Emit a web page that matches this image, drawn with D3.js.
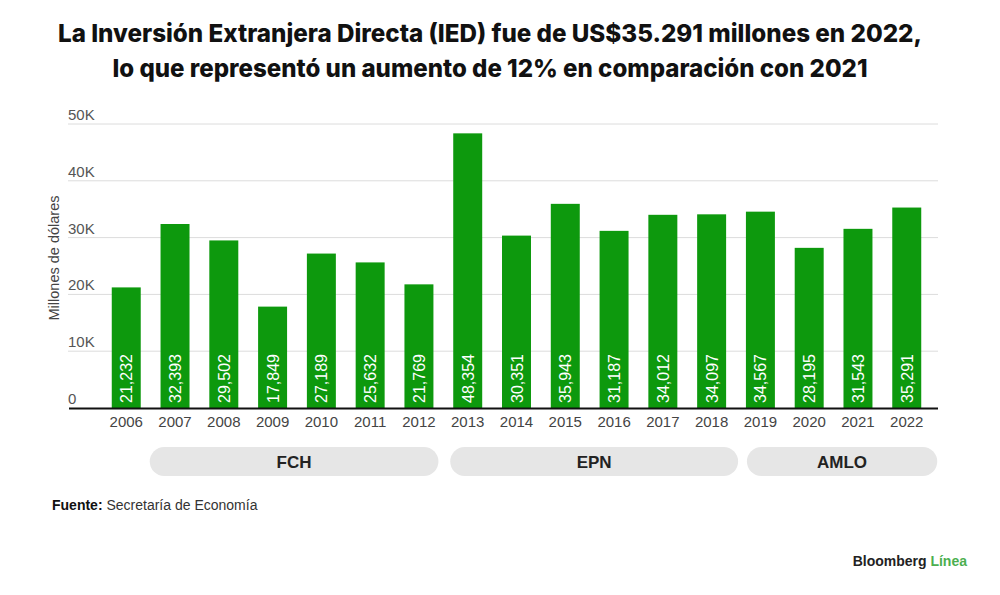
<!DOCTYPE html>
<html><head><meta charset="utf-8">
<script src="https://cdn.jsdelivr.net/npm/d3@7"></script>
<style>
body{margin:0;background:#fff;}
svg{display:block;}
</style></head>
<body>
<svg id="c" width="1000" height="595"></svg>
<script>
const years = ["2006","2007","2008","2009","2010","2011","2012","2013","2014","2015","2016","2017","2018","2019","2020","2021","2022"];
const values = [21232,32393,29502,17849,27189,25632,21769,48354,30351,35943,31187,34012,34097,34567,28195,31543,35291];
const yTicks = [0,10000,20000,30000,40000,50000];
const yTickLabels = ["0","10K","20K","30K","40K","50K"];
const groupNames = ["FCH","EPN","AMLO"];
const groupStart = ["2006","2013","2019"];
const groupEnd = ["2012","2018","2022"];
const titleLines = ["La Inversión Extranjera Directa (IED) fue de US$35.291 millones en 2022,","lo que representó un aumento de 12% en comparación con 2021"];

const svg = d3.select("#c");
const SANS = "'Liberation Sans', Arial, sans-serif";

const x = d3.scaleBand().domain(years).range([102, 931]).paddingInner(0.406).paddingOuter(0.2);
const y = d3.scaleLinear().domain([0, 50000]).range([408, 124]);

// title
const tw = [864, 755];
titleLines.forEach((t,i)=>{
  svg.append("text").attr("x",490).attr("y", i===0?42:77)
    .attr("text-anchor","middle")
    .attr("font-family","Inter, 'Open Sans', sans-serif")
    .attr("font-weight",800).attr("font-size",24.5)
    .attr("fill","#111")
    .attr("textLength", tw[i]).attr("lengthAdjust","spacingAndGlyphs")
    .text(t);
});

// gridlines
svg.append("g").selectAll("line").data(yTicks.slice(1)).join("line")
  .attr("x1",68).attr("x2",938)
  .attr("y1",d=>y(d)).attr("y2",d=>y(d))
  .attr("stroke","#dcdcdc").attr("stroke-width",1);

// y tick labels
svg.append("g").selectAll("text").data(yTicks).join("text")
  .attr("x",68).attr("y",d=>y(d)-4)
  .attr("font-family",SANS).attr("font-size",15).attr("fill","#555")
  .text((d,i)=>yTickLabels[i]);

// y title
svg.append("text")
  .attr("transform","translate(59,258) rotate(-90)")
  .attr("text-anchor","middle")
  .attr("font-family",SANS).attr("font-size",14.5).attr("fill","#444")
  .text("Millones de dólares");

// bars
svg.append("g").selectAll("rect").data(values).join("rect")
  .attr("x",(d,i)=>x(years[i]))
  .attr("width",x.bandwidth())
  .attr("y",d=>y(d))
  .attr("height",d=>y(0)-y(d))
  .attr("fill","#0d990d");

// value labels
const fmt = d3.format(",");
svg.append("g").selectAll("text").data(values).join("text")
  .attr("transform",(d,i)=>`translate(${x(years[i])+x.bandwidth()/2+6},${y(0)-5}) rotate(-90)`)
  .attr("font-family",SANS).attr("font-size",16).attr("fill","#fff")
  .text(d=>fmt(d));

// baseline
svg.append("line").attr("x1",69).attr("x2",938).attr("y1",y(0)+0.5).attr("y2",y(0)+0.5)
  .attr("stroke","#111").attr("stroke-width",2);

// x axis labels
svg.append("g").selectAll("text").data(years).join("text")
  .attr("x",d=>x(d)+x.bandwidth()/2).attr("y",427)
  .attr("text-anchor","middle")
  .attr("font-family",SANS).attr("font-size",15).attr("fill","#444")
  .text(d=>d);

// group pills
const pillOff = [[38,5],[-3,12],[1,16]];
groupNames.forEach((g,i)=>{
  const x0 = x(groupStart[i]) + pillOff[i][0];
  const x1 = x(groupEnd[i]) + x.bandwidth() + pillOff[i][1];
  svg.append("rect").attr("x",x0).attr("y",447).attr("width",x1-x0).attr("height",29)
    .attr("rx",14.5).attr("fill","#e6e6e6");
  svg.append("text").attr("x",(x0+x1)/2).attr("y",468)
    .attr("text-anchor","middle").attr("font-family",SANS).attr("font-weight",700)
    .attr("font-size",17).attr("fill","#222").text(g);
});

// source
const src = svg.append("text").attr("x",52).attr("y",510)
  .attr("font-family",SANS).attr("font-size",14).attr("fill","#333");
src.append("tspan").attr("font-weight",700).attr("fill","#111").text("Fuente:");
src.append("tspan").text(" Secretaría de Economía");

// brand
const br = svg.append("text").attr("x",967).attr("y",566).attr("text-anchor","end")
  .attr("font-family",SANS).attr("font-size",14).attr("font-weight",700);
br.append("tspan").attr("fill","#222").text("Bloomberg ");
br.append("tspan").attr("fill","#4caf50").text("Línea");
</script>
</body></html>
